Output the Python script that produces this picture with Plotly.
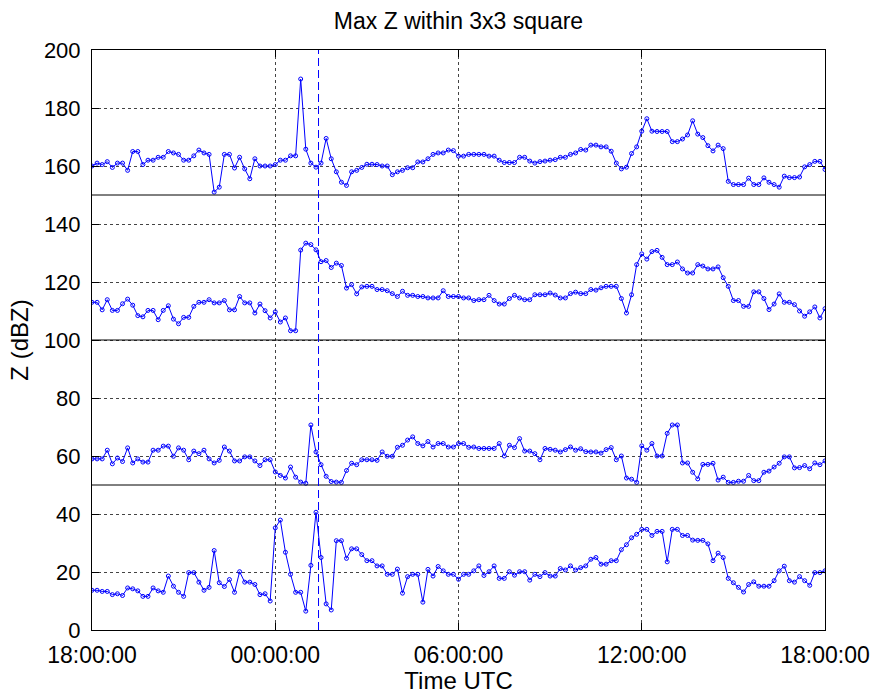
import pandas as pd
import plotly.graph_objects as go

# 10-minute samples from 18:00 UTC to 18:00 UTC next day
start_time = "2000-01-01 18:00"
end_time = "2000-01-02 18:00"
times = pd.date_range(start_time, periods=145, freq="10min")

s1 = [160, 161, 160.5, 161.5, 159.5, 161, 161, 158.5, 165, 165,
      160.5, 162, 162, 163, 163, 165, 164.5, 164, 162, 162,
      163.5, 165.5, 164.5, 164, 151, 152.7, 164, 164, 159.3, 163,
      159, 155.6, 162.5, 160, 160, 160, 160.5, 162, 162, 163.5,
      163.5, 190, 165.8, 161, 159.6, 161, 169.5, 162.5, 158, 154.4,
      153.3, 158, 158.5, 159.5, 160.6, 160.6, 160.5, 160, 160, 157,
      158, 158.5, 159.4, 159.4, 161.4, 161.4, 162.5, 164, 164.5, 164.5,
      165.5, 165.3, 163.4, 163.4, 164, 164, 164, 164, 163.4, 163.4,
      162, 161.2, 161.2, 161.2, 163, 163, 161.7, 161, 161.5, 161.7,
      162, 162.2, 163, 163, 164, 164.5, 165.7, 165.5, 167.2, 167.2,
      166.6, 166.6, 165.1, 161, 159, 159.6, 164.3, 166.6, 172, 176.3,
      172, 171.9, 171.9, 171.9, 168.4, 168.4, 169.3, 170.7, 175.6, 171,
      169.8, 167, 165.2, 167.2, 166, 154.7, 153.6, 153.6, 153.6, 155.8,
      153.6, 153.6, 155.9, 154.4, 153.6, 152.7, 156.5, 156, 156, 156.2,
      159.7, 160.5, 161.6, 161.6, 158.8]

s2 = [113, 113, 110.4, 113.9, 110.2, 110.2, 112.5, 114.1, 112, 108.4,
      108, 110.2, 110.2, 107, 110.2, 111.8, 107.2, 105.6, 107.8, 107.8,
      111.6, 113, 113, 113.9, 112.8, 112.8, 113.6, 110.4, 110.4, 115,
      112.8, 112.8, 109.3, 112.4, 110.1, 107.6, 109.7, 106.2, 107.6, 103.2,
      103.2, 131, 133.4, 132.9, 131.1, 127, 127.4, 125, 126.5, 125.7,
      117.9, 119.1, 115.9, 118.3, 118.5, 118.5, 117.4, 117.4, 117, 116,
      115, 116.8, 115.4, 115.4, 115, 115, 114.5, 114.5, 114.5, 117,
      115, 115, 115, 114.5, 114.5, 113.6, 113.9, 113.9, 115.4, 113.6,
      112.4, 112.4, 114.3, 115.4, 114.5, 113.9, 113.9, 115.6, 115.6, 115.6,
      116.2, 115.5, 114.5, 114.5, 116, 116.5, 116, 116, 117.4, 117.2,
      118, 118.5, 118.5, 118.5, 114.3, 109.3, 115.6, 126, 129.7, 127.9,
      130.5, 130.9, 128.5, 126, 126, 126.9, 124.5, 123.1, 123.1, 126,
      125.5, 124.5, 124.5, 125.2, 121.5, 118.5, 113.6, 113.6, 111.6, 111.6,
      116.6, 116.6, 114.3, 110.5, 112.4, 115.9, 113, 113, 112.2, 110,
      108.2, 109.7, 111.4, 107.6, 110.8]

s3 = [59, 59, 59, 62, 57.3, 59.3, 58.1, 62.8, 57.6, 59,
      57.9, 57.9, 62, 62, 63.4, 63.4, 59.9, 62.8, 62, 58.7,
      61.7, 60.8, 62, 59, 57.6, 58.5, 63.1, 61.7, 58.3, 58.3,
      59.7, 59.7, 58.3, 56.7, 58.7, 58.7, 54.5, 53.3, 52.4, 56.2,
      52.7, 51, 50.6, 70.7, 61.4, 57, 53, 51.2, 51, 50.9,
      55, 57.5, 57, 58.7, 58.7, 58.7, 58.5, 61.4, 59.9, 59.9,
      63, 63.7, 65.5, 66.6, 64.3, 63.5, 65, 63.1, 64.3, 64.3,
      63.1, 63.1, 64.3, 64.3, 63, 63.1, 62.6, 62.6, 62.6, 62.6,
      64.3, 60, 63.7, 62.9, 66, 61.7, 61.7, 60.8, 58.7, 62.6,
      62.3, 62, 61.4, 62.2, 63.1, 62, 62.5, 61.5, 61.4, 61.4,
      61, 62.2, 62.9, 58.7, 60, 52.4, 52, 50.9, 63.5, 62,
      64.3, 60, 60, 67.8, 70.7, 70.7, 57.6, 57.6, 54.4, 52.1,
      57.1, 57.1, 57.5, 51.7, 52.7, 50.9, 50.9, 51.3, 51.3, 53.3,
      51.5, 51.5, 54.4, 54.8, 56.2, 57.5, 59.7, 59.7, 55.9, 56,
      56.7, 55.6, 57.6, 57, 58.3]

s4 = [13.7, 13.7, 13.3, 13.3, 12.2, 12.5, 11.9, 14.5, 14.2, 13.5,
      11.6, 11.6, 14.5, 13.5, 13, 18.6, 15.1, 13, 11.6, 19.8,
      19.8, 16.5, 13.7, 14.7, 27.4, 16.3, 15, 17.4, 13, 20.1,
      16.5, 16.5, 15.7, 12.2, 12.5, 10, 35.2, 37.9, 26.8, 19.2,
      13, 13, 6.5, 22.3, 40.6, 25, 9, 6.9, 30.8, 30.8,
      24.7, 28, 28, 26, 23.9, 23.9, 22.1, 22.1, 19.2, 19.2,
      21, 12.7, 18.4, 19.2, 19.2, 9.6, 20.9, 18.6, 21.9, 20.4,
      19.2, 19.2, 17.5, 19.2, 19.2, 20.4, 22.1, 18.8, 20.1, 22.1,
      17.8, 17.8, 20.1, 18.9, 20.1, 20.1, 17.2, 19.2, 18.4, 19.8,
      18.6, 18.6, 21.2, 20.7, 22.1, 20.7, 21.5, 22.1, 24.4, 25,
      22.7, 22.7, 23.9, 23.9, 27.7, 29.4, 31.8, 33, 34.7, 34.7,
      32.6, 34, 34, 23.5, 34.7, 34.7, 32.6, 32.6, 31, 30.9,
      30.9, 29.7, 23.9, 26.5, 25, 17.8, 16.3, 14.7, 13.1, 15.7,
      16.6, 15.1, 15.1, 15.1, 17, 20.4, 22, 17, 16.5, 18.4,
      17, 15.4, 19.8, 19.8, 20.4]

separator_levels = [50, 100, 150]
event_time = "2000-01-02 01:25"
x_tickvals = ["2000-01-01 18:00", "2000-01-02 00:00", "2000-01-02 06:00",
              "2000-01-02 12:00", "2000-01-02 18:00"]
x_ticktext = ["18:00:00", "00:00:00", "06:00:00", "12:00:00", "18:00:00"]
y_tickvals = [0, 20, 40, 60, 80, 100, 120, 140, 160, 180, 200]

FONT = "Liberation Sans, Arial, Helvetica, sans-serif"
BLUE = "#0000ff"

fig = go.Figure()
for s in [s1, s2, s3, s4]:
    fig.add_trace(go.Scatter(
        x=times, y=s, mode="lines+markers",
        line=dict(color=BLUE, width=1),
        marker=dict(symbol="circle-open", size=4, color=BLUE, line=dict(width=1)),
        showlegend=False, hoverinfo="skip"))

for lvl in separator_levels:
    fig.add_hline(y=lvl, line=dict(color="black", width=1))

fig.add_vline(x=event_time, line=dict(color=BLUE, width=1, dash="8px,4px"))

axis_common = dict(
    showline=True, linecolor="black", linewidth=1, mirror="ticks",
    ticks="inside", ticklen=7, tickcolor="black", tickwidth=1,
    showgrid=True, gridcolor="#444444", griddash="dot", gridwidth=1,
    zeroline=False, automargin=False, ticklabeloverflow="allow",
)

fig.update_xaxes(
    type="date", range=[start_time, end_time],
    tickvals=x_tickvals, ticktext=x_ticktext, ticklabelstandoff=4,
    tickfont=dict(family=FONT, size=23, color="black"),
    title=dict(text="Time UTC", font=dict(family=FONT, size=24, color="black"), standoff=6),
    **axis_common)
fig.update_yaxes(
    range=[0, 200], tickvals=y_tickvals, ticklabelstandoff=6,
    tickfont=dict(family=FONT, size=22, color="black"),
    title=dict(text="Z (dBZ)", font=dict(family=FONT, size=24, color="black"), standoff=8),
    **axis_common)

fig.update_layout(
    width=875, height=694,
    margin=dict(l=92, r=50, t=50, b=64, autoexpand=False),
    paper_bgcolor="white", plot_bgcolor="white",
    title=dict(text="Max Z within 3x3 square", xref="paper", x=0.5, xanchor="center",
               yref="container", y=1 - 21 / 694, yanchor="middle",
               font=dict(family=FONT, size=23, color="black")),
)

# remove the page's default body margin so the figure sits at the window origin
fig.write_html("out.html", config={"displayModeBar": False},
               post_script="document.body.style.margin='0';")
